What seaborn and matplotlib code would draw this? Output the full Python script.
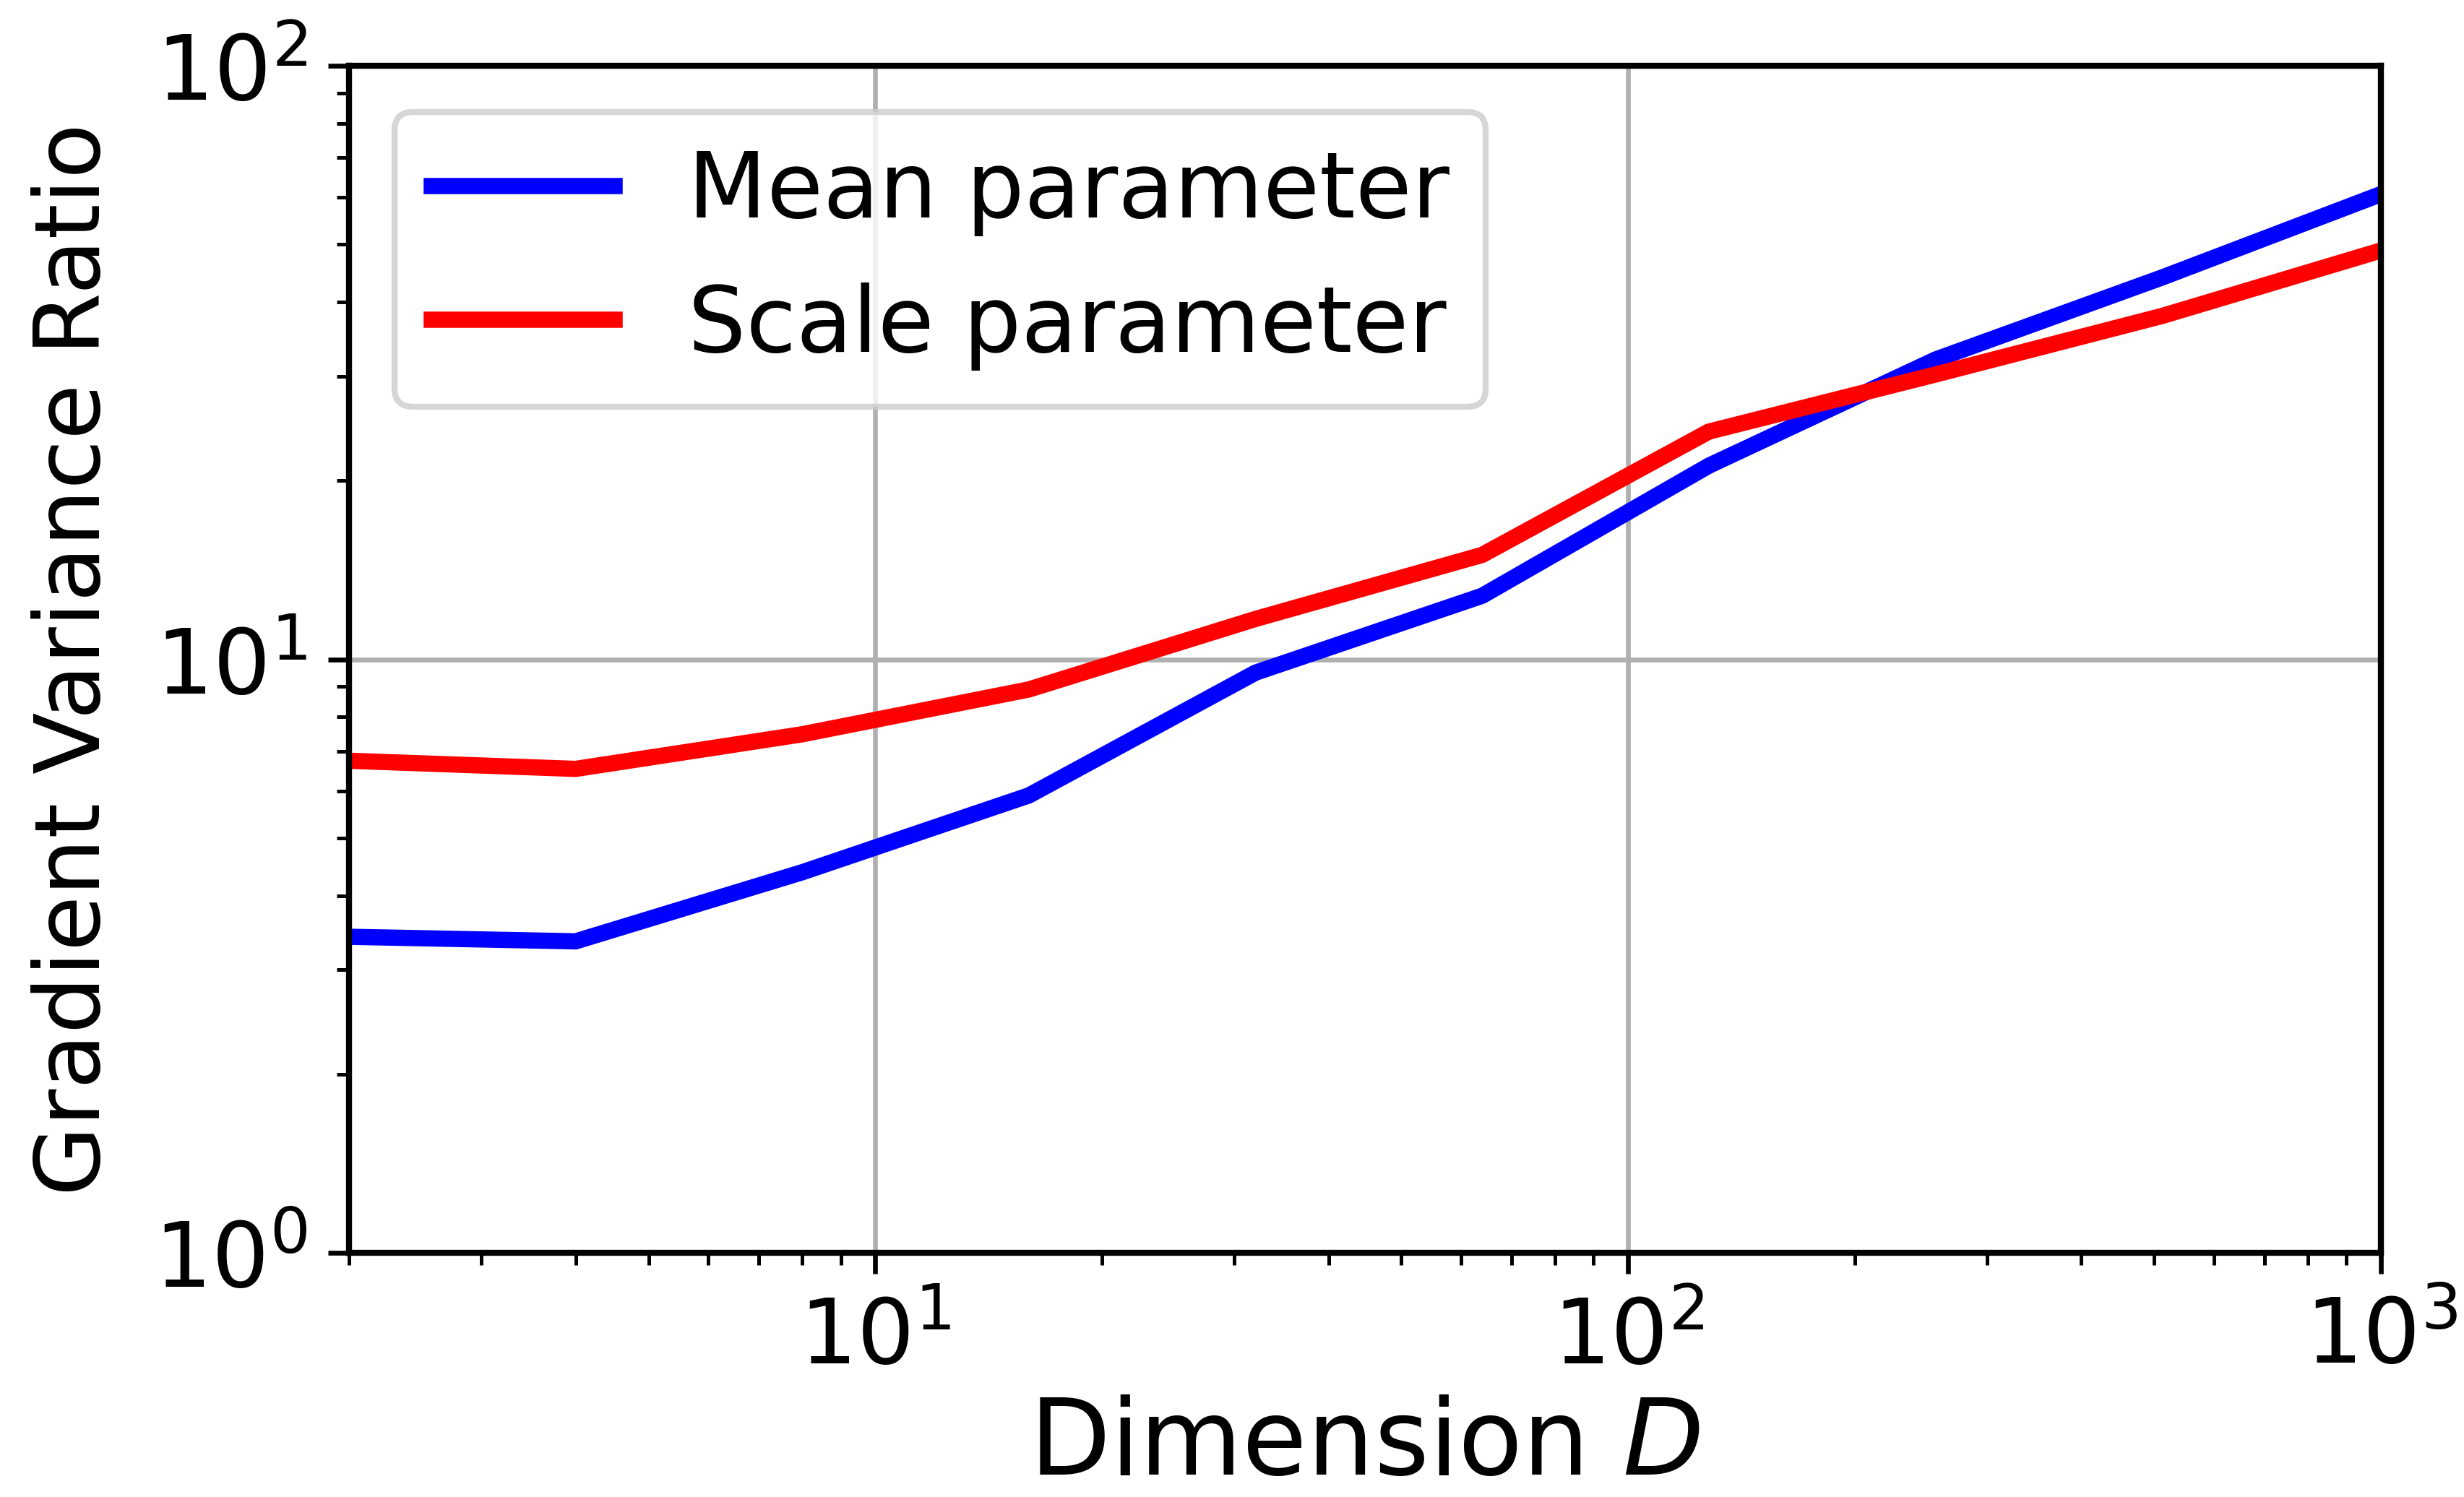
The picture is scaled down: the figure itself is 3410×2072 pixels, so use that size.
import numpy as np
import pandas as pd
import matplotlib
matplotlib.use("Agg")
import matplotlib.pyplot as plt
import seaborn as sns

dims = [2, 4, 8, 16, 32, 64, 128, 256, 512, 1024]
mean_ratio = [3.41, 3.35, 4.38, 5.9, 9.5, 12.8, 21.2, 32.0, 44.0, 61.5]
scale_ratio = [6.75, 6.54, 7.48, 8.9, 11.7, 15.0, 24.2, 30.2, 37.9, 49.3]
labels = ["Mean parameter", "Scale parameter"]

df = pd.DataFrame({
    "D": dims * 2,
    "ratio": mean_ratio + scale_ratio,
    "param": [labels[0]] * len(dims) + [labels[1]] * len(dims),
})

sns.set_theme(style="ticks", rc={"text.color": "black", "axes.labelcolor": "black",
                                 "xtick.color": "black", "ytick.color": "black",
                                 "axes.edgecolor": "black"})
plt.rcParams["font.family"] = ["DejaVu Sans"]
plt.rcParams["font.size"] = 15
plt.rcParams["mathtext.fontset"] = "dejavusans"

fig = plt.figure(figsize=(3411 / 600, 2072 / 600), dpi=600)
ax = fig.add_axes([0.1416, 0.163, 0.966 - 0.1416, 0.956 - 0.163])

sns.lineplot(data=df, x="D", y="ratio", hue="param",
             palette={labels[0]: "blue", labels[1]: "red"},
             linewidth=2.7, ax=ax)

ax.set_xscale("log")
ax.set_yscale("log")
ax.set_xlim(2, 1000)
ax.set_ylim(1, 100)
ax.grid(True, which="major", color="#b0b0b0", linewidth=0.8)
for s in ax.spines.values():
    s.set_linewidth(1.0)
    s.set_color("black")
ax.tick_params(which="major", length=3.5, width=0.8, labelsize=15, colors="black")
ax.tick_params(which="minor", length=2, width=0.6, colors="black")
ax.set_xlabel("Dimension $D$", fontsize=17.5, labelpad=2)
ax.set_ylabel("Gradient Variance Ratio", fontsize=15, labelpad=5.8)

leg = ax.legend(loc="upper left", fontsize=15.2, handlelength=2.0, frameon=True,
                fancybox=True, framealpha=0.8, edgecolor="0.8")
for line in leg.get_lines():
    line.set_linewidth(2.7)
    line.set_solid_capstyle("projecting")
for t in leg.get_texts():
    t.set_color("black")

fig.savefig("out.png", dpi=600)
